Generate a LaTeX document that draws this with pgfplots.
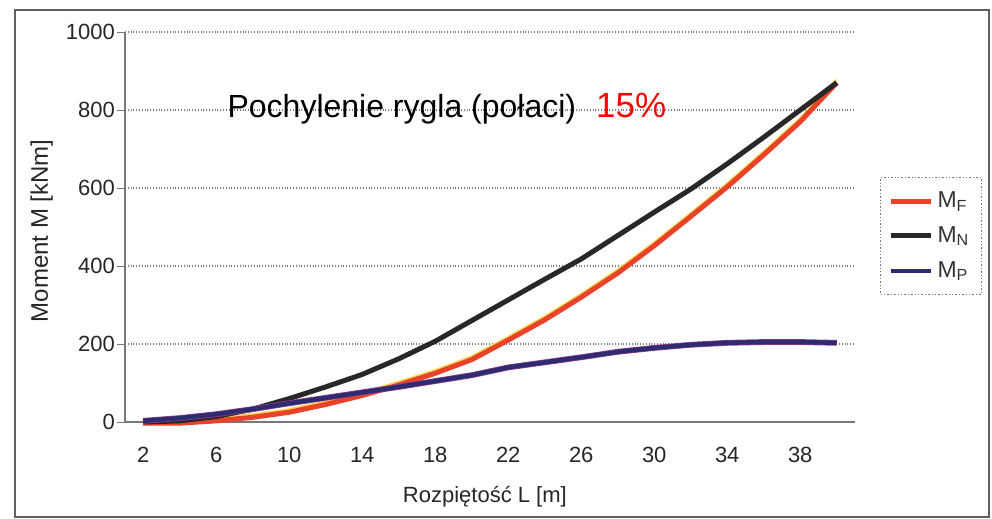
\documentclass[border=0pt]{standalone}
\usepackage{fontspec}
\setmainfont{Liberation Sans}
\usepackage{pgfplots}
\pgfplotsset{compat=1.18}

\definecolor{cF}{RGB}{232,66,42}
\definecolor{cFy}{RGB}{250,215,80}
\definecolor{cN}{RGB}{40,40,40}
\definecolor{cP}{RGB}{46,44,112}
\definecolor{cPedge}{RGB}{150,60,140}
\definecolor{gridc}{RGB}{120,120,120}

\begin{document}
\begin{tikzpicture}
\begin{axis}[
    scale only axis,
    width=365pt, height=195pt,
    xmin=1, xmax=41,
    ymin=0, ymax=1000,
    axis lines=left,
    axis line style={-, gridc, line width=0.6pt},
    xtick={2,6,...,38},
    ytick={0,200,...,1000},
    extra x ticks={1,5,...,41},
    extra x tick labels={},
    extra x tick style={major tick length=4pt, tick align=outside},
    tick align=outside,
    major tick length=4pt,
    xtick style={draw=none},
    ytick style={gridc},
    ymajorgrids,
    grid style={densely dotted, gridc, line width=0.7pt},
    /pgf/number format/assume math mode=true,
    /pgf/number format/1000 sep={},
    scaled y ticks=false,
    tick label style={font=\fontsize{11}{13}\selectfont, text=black!85},
    xticklabel style={yshift=-5pt},
    yticklabel style={xshift=2.5pt},
    xlabel={Rozpiętość L [m]},
    ylabel={Moment M [kNm]},
    label style={font=\fontsize{11}{13}\selectfont, text=black!85},
    xlabel style={at={(axis description cs:0.493,-0.192)}, anchor=center},
    ylabel style={at={(axis description cs:-0.114,0.49)}, anchor=center,
        font=\fontsize{12}{14}\selectfont},
    clip=false,
    legend style={at={(axis description cs:1.034,0.477)}, anchor=west,
        draw=gridc, densely dotted, line width=0.7pt,
        font=\fontsize{11.5}{13}\selectfont, text=black!80,
        inner xsep=4pt, inner ysep=5pt, row sep=4pt},
    legend cell align=left,
    legend image code/.code={\draw[#1, solid] (0pt,0pt) -- (20pt,0pt);},
]
% yellow fringe of M_F
\addplot[solid, cFy, line width=1pt, yshift=1.5pt, xshift=-0.3pt, forget plot] coordinates {
(2,-3) (4,-3) (6,3) (8,12) (10,25) (12,45) (14,68) (16,95) (18,125) (20,160)
(22,210) (24,262) (26,320) (28,382) (30,452) (32,527) (34,603) (36,685) (38,770) (40,870)
};
\addplot[solid, cF, line width=2.5pt] coordinates {
(2,-3) (4,-3) (6,3) (8,12) (10,25) (12,45) (14,68) (16,95) (18,125) (20,160)
(22,210) (24,262) (26,320) (28,382) (30,452) (32,527) (34,603) (36,685) (38,770) (40,870)
};
\addlegendentry{M\textsubscript{F}}
\addplot[solid, cN, line width=2.5pt] coordinates {
(2,0) (4,3) (6,14) (8,33) (10,60) (12,90) (14,122) (16,162) (18,207) (20,260)
(22,313) (24,366) (26,418) (28,478) (30,538) (32,597) (34,662) (36,730) (38,800) (40,870)
};
\addlegendentry{M\textsubscript{N}}
% purple fringe of M_P
\addplot[solid, cPedge, line width=2.9pt, forget plot] coordinates {
(2,3) (4,10) (6,20) (8,33) (10,48) (12,62) (14,76) (16,90) (18,105) (20,120)
(22,140) (24,153) (26,166) (28,180) (30,190) (32,198) (34,203) (36,205) (38,205) (40,203)
};
\addplot[solid, cP, line width=2.2pt] coordinates {
(2,3) (4,10) (6,20) (8,33) (10,48) (12,62) (14,76) (16,90) (18,105) (20,120)
(22,140) (24,153) (26,166) (28,180) (30,190) (32,198) (34,203) (36,205) (38,205) (40,203)
};
\addlegendentry{M\textsubscript{P}}

\node[anchor=base west, font=\fontsize{16}{18}\selectfont, inner sep=0pt]
    at (axis cs:6.6,782) {Pochylenie rygla (połaci)};
\node[anchor=base west, font=\fontsize{17.5}{20}\selectfont, text=red, inner sep=0pt]
    at (axis cs:26.8,782) {15\%};
\end{axis}
\draw[gridc!80!black, line width=0.8pt] (-55pt,-47.5pt) rectangle (432pt,206pt);
\pgfresetboundingbox
\path[use as bounding box] (-62.5pt,-48.5pt) rectangle (433.5pt,211pt);
\end{tikzpicture}
\end{document}
